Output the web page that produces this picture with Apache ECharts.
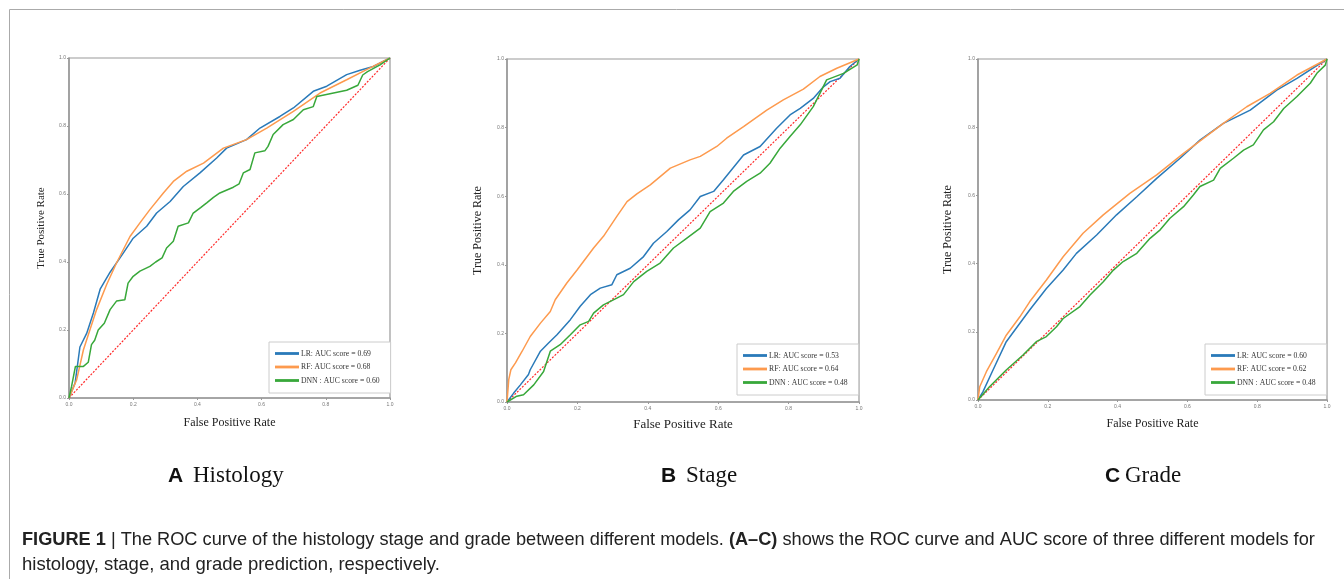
<!DOCTYPE html>
<html>
<head>
<meta charset="utf-8">
<title>ROC curves</title>
<script src="https://cdn.jsdelivr.net/npm/echarts@6/dist/echarts.min.js"></script>
<style>
  html, body { margin: 0; padding: 0; background: #fff; }
  #chart { width: 1344px; height: 579px; }
</style>
</head>
<body>
<div id="chart"></div>
<script>
// ROC points [FPR, TPR]
const histLR = [[0,0],[0.019,0.044],[0.034,0.15],[0.055,0.19],[0.076,0.25],[0.097,0.32],[0.128,0.37],[0.169,0.426],[0.2,0.47],[0.242,0.505],[0.273,0.544],[0.315,0.578],[0.356,0.622],[0.408,0.662],[0.46,0.706],[0.491,0.735],[0.553,0.76],[0.595,0.794],[0.657,0.828],[0.699,0.853],[0.761,0.902],[0.803,0.917],[0.865,0.951],[0.907,0.964],[0.948,0.975],[1,1]];
const histRF = [[0,0],[0.024,0.054],[0.045,0.142],[0.065,0.2],[0.086,0.26],[0.117,0.333],[0.148,0.397],[0.19,0.475],[0.221,0.515],[0.252,0.554],[0.294,0.603],[0.325,0.637],[0.367,0.667],[0.419,0.691],[0.481,0.735],[0.553,0.76],[0.616,0.794],[0.699,0.843],[0.782,0.897],[0.865,0.936],[0.927,0.966],[1,1]];
const histDNN = [[0,0],[0.008,0.034],[0.02,0.093],[0.045,0.093],[0.06,0.105],[0.07,0.157],[0.08,0.17],[0.091,0.2],[0.11,0.22],[0.128,0.26],[0.148,0.285],[0.174,0.289],[0.184,0.338],[0.2,0.358],[0.221,0.373],[0.252,0.387],[0.27,0.4],[0.29,0.412],[0.304,0.441],[0.325,0.461],[0.34,0.505],[0.372,0.515],[0.387,0.544],[0.41,0.56],[0.429,0.574],[0.45,0.59],[0.47,0.603],[0.512,0.62],[0.53,0.63],[0.543,0.662],[0.564,0.672],[0.579,0.721],[0.61,0.727],[0.62,0.74],[0.636,0.775],[0.667,0.804],[0.699,0.819],[0.73,0.848],[0.761,0.857],[0.772,0.887],[0.813,0.895],[0.865,0.905],[0.9,0.92],[0.915,0.95],[0.93,0.96],[0.969,0.98],[1,1]];

const stageLR = [[0,0],[0.019,0.026],[0.038,0.05],[0.061,0.08],[0.066,0.094],[0.095,0.148],[0.118,0.172],[0.142,0.196],[0.18,0.24],[0.208,0.279],[0.237,0.313],[0.265,0.332],[0.298,0.342],[0.312,0.371],[0.35,0.39],[0.388,0.424],[0.416,0.463],[0.454,0.497],[0.487,0.531],[0.52,0.56],[0.549,0.599],[0.587,0.614],[0.615,0.648],[0.653,0.696],[0.672,0.72],[0.719,0.745],[0.766,0.798],[0.804,0.837],[0.833,0.856],[0.87,0.885],[0.899,0.919],[0.918,0.934],[0.946,0.944],[0.974,0.978],[1,1]];
const stageRF = [[0,0],[0.005,0.065],[0.011,0.094],[0.024,0.114],[0.043,0.148],[0.066,0.191],[0.095,0.23],[0.123,0.264],[0.137,0.298],[0.17,0.347],[0.199,0.385],[0.246,0.449],[0.274,0.483],[0.312,0.541],[0.341,0.584],[0.369,0.607],[0.407,0.633],[0.464,0.682],[0.52,0.706],[0.549,0.716],[0.596,0.745],[0.624,0.769],[0.672,0.803],[0.738,0.851],[0.785,0.881],[0.842,0.912],[0.889,0.949],[0.937,0.973],[1,1]];
const stageDNN = [[0,0],[0.028,0.017],[0.047,0.021],[0.076,0.05],[0.104,0.089],[0.123,0.148],[0.151,0.167],[0.18,0.196],[0.208,0.225],[0.232,0.235],[0.246,0.259],[0.274,0.283],[0.312,0.303],[0.331,0.313],[0.36,0.351],[0.397,0.381],[0.435,0.405],[0.473,0.449],[0.511,0.478],[0.549,0.507],[0.577,0.555],[0.615,0.58],[0.643,0.614],[0.681,0.643],[0.719,0.667],[0.747,0.696],[0.776,0.74],[0.804,0.774],[0.833,0.808],[0.87,0.861],[0.889,0.9],[0.908,0.939],[0.956,0.958],[0.995,0.983],[1,1]];

const gradeLR = [[0,0],[0.014,0.024],[0.043,0.088],[0.081,0.171],[0.12,0.225],[0.148,0.264],[0.196,0.327],[0.244,0.381],[0.282,0.43],[0.34,0.484],[0.397,0.543],[0.455,0.596],[0.512,0.65],[0.579,0.709],[0.636,0.762],[0.703,0.811],[0.78,0.85],[0.856,0.909],[0.914,0.943],[1,1]];
const gradeRF = [[0,0],[0.005,0.039],[0.024,0.083],[0.053,0.137],[0.081,0.19],[0.12,0.244],[0.148,0.288],[0.196,0.352],[0.244,0.42],[0.301,0.489],[0.359,0.543],[0.435,0.606],[0.512,0.66],[0.589,0.723],[0.646,0.767],[0.703,0.811],[0.77,0.86],[0.837,0.899],[0.914,0.953],[1,1]];
const gradeDNN = [[0,0],[0.033,0.039],[0.081,0.088],[0.129,0.132],[0.167,0.171],[0.196,0.186],[0.225,0.215],[0.244,0.239],[0.292,0.274],[0.321,0.308],[0.359,0.347],[0.388,0.381],[0.416,0.406],[0.455,0.43],[0.493,0.474],[0.522,0.499],[0.55,0.533],[0.589,0.567],[0.617,0.601],[0.636,0.626],[0.675,0.645],[0.694,0.679],[0.732,0.709],[0.761,0.733],[0.789,0.748],[0.818,0.792],[0.847,0.816],[0.876,0.855],[0.914,0.89],[0.952,0.929],[0.971,0.958],[0.995,0.982],[1,1]];

const chance = [[0,0],[1,1]];

const namesA = ['LR: AUC score = 0.69', 'RF: AUC score = 0.68', 'DNN : AUC score = 0.60'];
const namesB = ['LR: AUC score = 0.53', 'RF: AUC score = 0.64', 'DNN : AUC score = 0.48'];
const namesC = ['LR: AUC score = 0.60', 'RF: AUC score = 0.62', 'DNN : AUC score = 0.48'];

const panelLetters = ['A', 'B', 'C'];
const panelTitles = ['Histology', 'Stage', 'Grade'];

const colors = ['#2a7ab9', '#fd9a4e', '#38a83a'];
const serif = '"Liberation Serif", "DejaVu Serif", serif';
const sans = '"Liberation Sans", Arial, sans-serif';

const myChart = echarts.init(document.getElementById('chart'));

// pixel boxes of the three plots
const grids = [
  { left: 69, top: 58, width: 321, height: 340 },
  { left: 507, top: 59, width: 352, height: 343 },
  { left: 978, top: 59, width: 349, height: 341 }
];
const yNameGap = [22, 23, 24];
const xNameGap = [19, 16, 18];
const xNameSize = [12, 13, 12];
const yNameSize = [11, 12, 12];

function xAxisOf(i) {
  return {
    type: 'value', gridIndex: i, min: 0, max: 1, interval: 0.2,
    name: 'False Positive Rate', nameLocation: 'middle', nameGap: xNameGap[i],
    nameTextStyle: { fontFamily: serif, fontSize: xNameSize[i], color: '#222' },
    axisLine: { show: true, lineStyle: { color: '#999', width: 1.5 } },
    axisTick: { show: true, length: 2, lineStyle: { color: '#999' } },
    axisLabel: { fontSize: 5, color: '#777', margin: 4, formatter: v => v.toFixed(1) },
    splitLine: { show: false }
  };
}
function yAxisOf(i) {
  return {
    type: 'value', gridIndex: i, min: 0, max: 1, interval: 0.2,
    name: 'True Positive Rate', nameLocation: 'middle', nameGap: yNameGap[i],
    nameTextStyle: { fontFamily: serif, fontSize: yNameSize[i], color: '#222' },
    axisLine: { show: true, lineStyle: { color: '#999', width: 1.5 } },
    axisTick: { show: true, length: 2, lineStyle: { color: '#999' } },
    axisLabel: { fontSize: 5, color: '#777', margin: 3, formatter: v => v.toFixed(1) },
    splitLine: { show: false }
  };
}

const panelData = [
  [histLR, histRF, histDNN],
  [stageLR, stageRF, stageDNN],
  [gradeLR, gradeRF, gradeDNN]
];
const panelNames = [namesA, namesB, namesC];

let series = [];
panelData.forEach((curves, i) => {
  // chance diagonal
  series.push({
    type: 'line', xAxisIndex: i, yAxisIndex: i, data: chance,
    symbol: 'none', silent: true,
    lineStyle: { color: '#ff2a2a', width: 1.2, type: [2, 1.5] }
  });
  curves.forEach((pts, k) => {
    series.push({
      name: panelNames[i][k], type: 'line', xAxisIndex: i, yAxisIndex: i,
      data: pts, symbol: 'none', color: colors[k],
      lineStyle: { color: colors[k], width: 1.5 }
    });
  });
});

// legend boxes sit in the lower-right corner of each plot
const legendPos = [[269, 342], [737, 344], [1205, 344]];
const legends = panelNames.map((names, i) => ({
  data: names, orient: 'vertical', left: legendPos[i][0], top: legendPos[i][1],
  icon: 'rect', itemWidth: 24, itemHeight: 2.8, itemGap: 4.5,
  padding: [7, 11, 8, 6], backgroundColor: '#fff',
  borderColor: '#ccc', borderWidth: 1, selectedMode: false,
  textStyle: { fontFamily: serif, fontSize: 7.7, lineHeight: 9, color: '#333', padding: [0, 0, 0, -3] }
}));

// panel captions and figure caption
const capX = [[168, 193], [661, 686], [1105, 1125]];
let graphics = [
  { type: 'polyline', silent: true, shape: { points: [[9.5, 579], [9.5, 9.5], [1344, 9.5]] },
    style: { stroke: '#aaa', lineWidth: 1, fill: null } }
];
panelLetters.forEach((L, i) => {
  graphics.push({ type: 'text', x: capX[i][0], y: 476,
    style: { text: L, font: 'bold 21px ' + sans, fill: '#111', verticalAlign: 'middle' } });
  graphics.push({ type: 'text', x: capX[i][1], y: 476,
    style: { text: panelTitles[i], font: '23px ' + serif, fill: '#111', verticalAlign: 'middle' } });
});
graphics.push({ type: 'text', x: 22, y: 540, scaleX: 0.983, style: {
  text: '{b|FIGURE 1} | The ROC curve of the histology stage and grade between different models. {b|(A–C)} shows the ROC curve and AUC score of three different models for',
  font: '18.5px ' + sans, fill: '#222', verticalAlign: 'middle',
  rich: { b: { fontWeight: 'bold', fontFamily: sans, fontSize: 18.5, fill: '#222' } }
} });
graphics.push({ type: 'text', x: 22, y: 565, style: {
  text: 'histology, stage, and grade prediction, respectively.',
  font: '18.5px ' + sans, fill: '#222', verticalAlign: 'middle'
} });

myChart.setOption({
  animation: false,
  grid: grids.map(g => Object.assign({ show: true, borderColor: '#999', borderWidth: 1.2, backgroundColor: '#fff' }, g)),
  xAxis: grids.map((g, i) => xAxisOf(i)),
  yAxis: grids.map((g, i) => yAxisOf(i)),
  legend: legends,
  series: series,
  graphic: graphics
});
</script>
</body>
</html>
